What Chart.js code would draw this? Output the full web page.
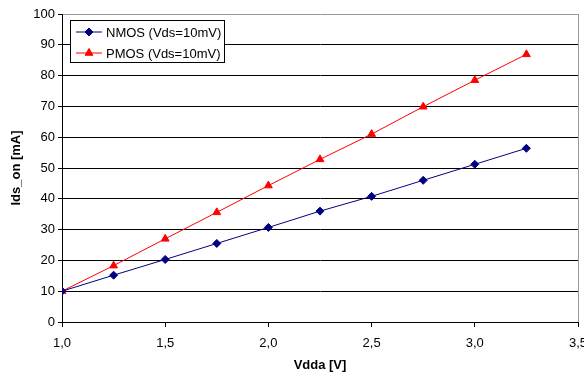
<!DOCTYPE html>
<html lang="en">
<head>
  <meta charset="UTF-8">
  <title>Ids_on vs Vdda</title>
  <script src="https://cdn.jsdelivr.net/npm/chart.js"></script>
  <style>
    html, body {
      margin: 0;
      padding: 0;
      background: #fff;
    }
    .chart-box {
      width: 584px;
      height: 374px;
    }
  </style>
</head>
<body>
  <div class="chart-box"><canvas id="chart" width="584" height="374"></canvas></div>

  <script>
    // data
    const vdda = [1.0, 1.25, 1.5, 1.75, 2.0, 2.25, 2.5, 2.75, 3.0, 3.25];
    const nmos = [10.0, 15.2, 20.3, 25.5, 30.7, 36.0, 40.8, 46.0, 51.2, 56.4];
    const pmos = [10.0, 18.3, 27.0, 35.6, 44.3, 52.8, 61.0, 69.9, 78.5, 86.9];
    const seriesLabels = ['NMOS (Vds=10mV)', 'PMOS (Vds=10mV)'];

    const FONT = "'Liberation Sans', Arial, sans-serif";
    Chart.defaults.font.family = FONT;
    Chart.defaults.color = '#000';

    const toPoints = ys => vdda.map((x, i) => ({ x: x, y: ys[i] }));

    // legend box drawn inside the plot area, like the original
    const insideLegend = {
      id: 'insideLegend',
      afterDraw(chart) {
        const ctx = chart.ctx;
        const box = { x: 70.5, y: 20.5, w: 154, h: 42 };
        ctx.save();
        ctx.fillStyle = '#fff';
        ctx.fillRect(box.x, box.y, box.w, box.h);
        ctx.strokeStyle = '#000';
        ctx.lineWidth = 1;
        ctx.strokeRect(box.x, box.y, box.w, box.h);
        ctx.font = '13px ' + FONT;
        ctx.textBaseline = 'middle';
        chart.data.datasets.forEach((ds, i) => {
          const rowY = 32 + i * 21;
          ctx.strokeStyle = ds.borderColor;
          ctx.fillStyle = ds.backgroundColor;
          ctx.beginPath();
          ctx.moveTo(76, rowY);
          ctx.lineTo(102, rowY);
          ctx.stroke();
          Chart.helpers.drawPoint(ctx, {
            pointStyle: ds.pointStyle,
            radius: ds.pointRadius,
            borderWidth: 1
          }, 89, rowY);
          ctx.fillStyle = '#000';
          ctx.fillText(ds.label, 106, rowY + 1);
        });
        ctx.restore();
      }
    };

    new Chart(document.getElementById('chart'), {
      type: 'line',
      data: {
        datasets: [
          {
            label: seriesLabels[0],
            data: toPoints(nmos),
            borderColor: '#000080',
            backgroundColor: '#000080',
            borderWidth: 1,
            pointStyle: 'rectRot',
            pointRadius: 4,
            pointBorderWidth: 1
          },
          {
            label: seriesLabels[1],
            data: toPoints(pmos),
            borderColor: '#ff0000',
            backgroundColor: '#ff0000',
            borderWidth: 1,
            pointStyle: 'triangle',
            pointRadius: 4.5,
            pointBorderWidth: 1
          }
        ]
      },
      options: {
        responsive: false,
        animation: false,
        layout: { padding: { left: 0, top: 14, right: 6, bottom: 0 } },
        plugins: {
          legend: { display: false },
          tooltip: { enabled: false }
        },
        scales: {
          x: {
            type: 'linear',
            min: 1,
            max: 3.5,
            ticks: {
              stepSize: 0.5,
              padding: 9,
              font: { size: 13 },
              callback: v => v.toFixed(1).replace('.', ',')
            },
            grid: {
              drawOnChartArea: true,
              color: ctx => ctx.index === 5 ? '#999' : 'rgba(0,0,0,0)',
              tickColor: '#000',
              tickLength: 5
            },
            border: { color: '#000', width: 1 },
            title: {
              display: true,
              text: 'Vdda [V]',
              font: { size: 13, weight: 'bold' },
              padding: { top: 0, bottom: 1 }
            },
            afterFit: s => { s.height = 52; s.paddingLeft = 0; s.paddingRight = 0; }
          },
          y: {
            min: 0,
            max: 100,
            ticks: {
              stepSize: 10,
              padding: 3,
              font: { size: 13 }
            },
            grid: {
              color: ctx => ctx.tick && ctx.tick.value === 100 ? '#999' : '#000',
              tickColor: '#000',
              tickLength: 4
            },
            border: { color: '#000', width: 1 },
            title: {
              display: true,
              text: 'Ids_on [mA]',
              font: { size: 13, weight: 'bold' },
              padding: { top: 9, bottom: 0 }
            },
            afterFit: s => { s.width = 62; s.paddingTop = 0; s.paddingBottom = 0; }
          }
        }
      },
      plugins: [insideLegend]
    });
  </script>
</body>
</html>
